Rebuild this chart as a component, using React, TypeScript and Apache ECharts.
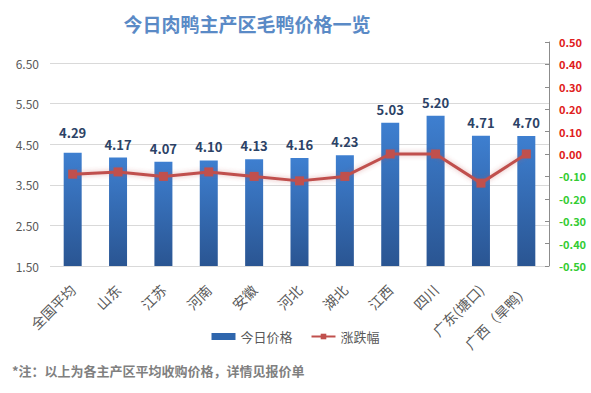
import React, { useEffect, useRef } from "react";
import * as echarts from "echarts";

const categories = ["全国平均", "山东", "江苏", "河南", "安徽", "河北", "湖北", "江西", "四川", "广东(塘口)", "广西（旱鸭）"];
const prices = [4.29, 4.17, 4.07, 4.1, 4.13, 4.16, 4.23, 5.03, 5.2, 4.71, 4.7];
const changes = [-0.09, -0.08, -0.1, -0.08, -0.1, -0.12, -0.1, 0.0, 0.0, -0.13, 0.0];

const FONT = "'Noto Sans CJK SC', 'Noto Sans', sans-serif";

export default function App() {
  const ref = useRef<HTMLDivElement>(null);
  useEffect(() => {
    if (!ref.current) return;
    const chart = echarts.init(ref.current, undefined, { renderer: "svg" });
    chart.setOption({
      animation: false,
      backgroundColor: "#ffffff",
      title: {
        text: "今日肉鸭主产区毛鸭价格一览",
        left: 242,
        textAlign: "center",
        top: 9,
        textStyle: { fontFamily: FONT, fontSize: 19, fontWeight: "bold", color: "#5a8ac6" },
      },
      legend: {
        bottom: 45,
        left: "center",
        itemGap: 18,
        textStyle: { fontFamily: FONT, fontSize: 13, color: "#595959" },
        data: [
          { name: "今日价格", icon: "rect", itemStyle: { color: "#2f66ad" } },
          { name: "涨跌幅" },
        ],
        itemWidth: 24,
        itemHeight: 7,
      },
      graphic: [
        {
          type: "text",
          left: 12,
          top: 364,
          style: {
            text: "*注：以上为各主产区平均收购价格，详情见报价单",
            fontFamily: FONT,
            fontSize: 13,
            fontWeight: "bold",
            fill: "#808080",
          },
        },
      ],
      grid: [
        { left: 50, right: 42, top: 63, bottom: 127 },
        { left: 50, right: 42, top: 42, bottom: 127 },
      ],
      xAxis: [
        {
          type: "category",
          gridIndex: 0,
          data: categories,
          axisLine: { show: false },
          axisTick: { show: false },
          axisLabel: {
            rotate: 45,
            interval: 0,
            fontFamily: FONT,
            fontSize: 14,
            color: "#595959",
            margin: 21,
          },
        },
        {
          type: "category",
          gridIndex: 1,
          data: categories,
          show: false,
        },
      ],
      yAxis: [
        {
          type: "value",
          gridIndex: 0,
          min: 1.5,
          max: 6.5,
          interval: 1,
          axisLine: { show: false },
          axisTick: { show: false },
          splitLine: { lineStyle: { color: "#d9d9d9", width: 1 } },
          axisLabel: {
            formatter: (v: number) => v.toFixed(2),
            fontFamily: FONT,
            fontSize: 12,
            color: "#595959",
            margin: 11,
          },
        },
        {
          type: "value",
          gridIndex: 1,
          position: "right",
          min: -0.5,
          max: 0.5,
          interval: 0.1,
          splitLine: { show: false },
          axisLine: { show: true, lineStyle: { color: "#8c8c8c" } },
          axisTick: { show: true, inside: true, length: 4, lineStyle: { color: "#8c8c8c" } },
          axisLabel: {
            formatter: (v: number) => {
              const r = Math.round(v * 100) / 100;
              const s = (Object.is(r, -0) ? 0 : r).toFixed(2);
              return r < -0.001 ? "{g|" + s + "}" : "{r|" + s + "}";
            },
            margin: 10,
            rich: {
              r: { color: "#e02020", fontFamily: FONT, fontSize: 11, fontWeight: "bold" },
              g: { color: "#33cc33", fontFamily: FONT, fontSize: 11, fontWeight: "bold" },
            },
          },
        },
      ],
      series: [
        {
          name: "今日价格",
          type: "bar",
          xAxisIndex: 0,
          yAxisIndex: 0,
          barWidth: 18,
          data: prices.map((v, i) => ({
            value: v,
            label: i === 0 ? { distance: 14 } : undefined,
          })),
          itemStyle: {
            color: new echarts.graphic.LinearGradient(0, 0, 0, 1, [
              { offset: 0, color: "#3e7fd0" },
              { offset: 1, color: "#2a5592" },
            ]),
          },
          label: {
            show: true,
            position: "top",
            distance: 7,
            formatter: (p: any) => Number(p.value).toFixed(2),
            fontFamily: FONT,
            fontSize: 13,
            fontWeight: "bold",
            color: "#2c4266",
          },
        },
        {
          name: "涨跌幅",
          type: "line",
          xAxisIndex: 1,
          yAxisIndex: 1,
          data: changes,
          symbol: "rect",
          symbolSize: 9,
          lineStyle: {
            color: "#c0504d",
            width: 3,
            shadowBlur: 5,
            shadowColor: "rgba(192,80,77,0.45)",
          },
          itemStyle: { color: "#c0504d" },
          z: 5,
        },
      ],
    });
    return () => chart.dispose();
  }, []);
  return <div ref={ref} style={{ position: "fixed", left: 0, top: 0, width: 591, height: 393 }} />;
}
